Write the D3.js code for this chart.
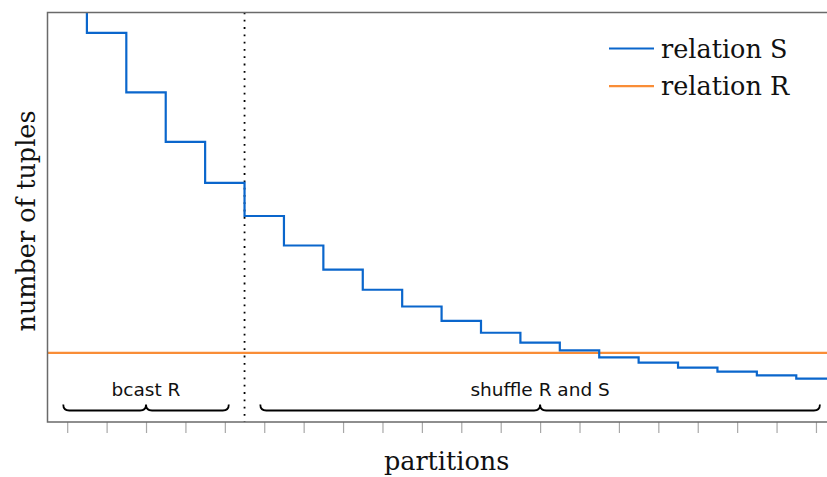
<!DOCTYPE html>
<html>
  <head>
    <title>Partition sizes</title>
    <style type="text/css">
        body{
            margin: 0;
            background: #fff;
        }
        .frame{
            stroke: #6a6a6a;
            stroke-width: 1.5px;
            fill: none;
        }
        .serif{
            font-family: "DejaVu Serif", serif;
            font-size: 25.5px;
            fill: #111;
        }
        .sans{
            font-family: "DejaVu Sans", sans-serif;
            font-size: 18.5px;
            fill: #111;
        }
    </style>
  </head>
  <body>
    <div id="chart"></div>

    <script src="https://cdn.jsdelivr.net/npm/d3@7"></script>
    <script>
        //  Values (y axis has no labels, so 0..100 units)
        var partitions = [0, 1, 2, 3, 4, 5, 6, 7, 8, 9, 10, 11, 12, 13, 14, 15, 16, 17, 18, 19];
        var relationS = [115, 95.0, 80.5, 68.4, 58.4, 50.3, 43.1, 37.2, 32.3, 28.2,
                         24.7, 21.8, 19.4, 17.5, 15.8, 14.5, 13.3, 12.3, 11.4, 10.6];
        var relationR = 16.9;
        var splitAt = 4.5;
        var groups = [
            {label: "bcast R", from: -0.1, to: 4.1},
            {label: "shuffle R and S", from: 4.9, to: 19.1}
        ];
        var legendItems = [
            {label: "relation S", color: "#0a66cc"},
            {label: "relation R", color: "#f98d37"}
        ];

        var width = 827, height = 477;
        //  plot area box ("top" is taken by window.top, so prefix them)
        var plotLeft = 47.5, plotRight = 827, plotTop = 12.5, plotBottom = 422;

        var svg = d3.select("#chart").append("svg")
            .attr("width", width)
            .attr("height", height);

        var x = d3.scaleLinear().domain([-0.5, 19.28]).range([plotLeft, plotRight]);
        var y = d3.scaleLinear().domain([0, 100]).range([plotBottom, plotTop]);

        svg.append("clipPath").attr("id", "plot-clip")
            .append("rect")
            .attr("x", plotLeft).attr("y", plotTop)
            .attr("width", plotRight - plotLeft).attr("height", plotBottom - plotTop);

        //  x axis ticks hanging below the frame
        var xAxis = d3.axisBottom(x).tickValues(partitions).tickSize(11).tickFormat("");
        var gx = svg.append("g")
            .attr("transform", "translate(0," + plotBottom + ")")
            .call(xAxis);
        gx.select(".domain").remove();
        gx.selectAll(".tick line").attr("stroke", "#a8a8a8").attr("stroke-width", 1.2);

        var plot = svg.append("g").attr("clip-path", "url(#plot-clip)");

        //  split between broadcast and shuffle partitions
        plot.append("line")
            .attr("x1", x(splitAt)).attr("x2", x(splitAt))
            .attr("y1", plotTop).attr("y2", plotBottom)
            .attr("stroke", "#000")
            .attr("stroke-width", 1.8)
            .attr("stroke-dasharray", "1.8,5.5");

        plot.append("line")
            .attr("x1", plotLeft).attr("x2", plotRight)
            .attr("y1", y(relationR)).attr("y2", y(relationR))
            .attr("stroke", legendItems[1].color)
            .attr("stroke-width", 2.2);

        var stepData = partitions.map((p, i) => [p, relationS[i]]);
        stepData.push([x.domain()[1], relationS[relationS.length - 1]]);

        var line = d3.line()
            .x((d) => x(d[0]))
            .y((d) => y(d[1]))
            .curve(d3.curveStep);

        plot.append("path")
            .datum(stepData)
            .attr("d", line)
            .attr("fill", "none")
            .attr("stroke", legendItems[0].color)
            .attr("stroke-width", 2.2);

        //  frame: left, top, bottom (right edge is outside the picture)
        svg.append("path")
            .attr("class", "frame")
            .attr("d", "M" + plotRight + "," + plotTop + "H" + plotLeft + "V" + plotBottom + "H" + plotRight);

        //  curly braces under the groups
        function brace(x1, x2, y0, h) {
            var mid = (x1 + x2) / 2;
            return "M" + x1 + "," + (y0 - h) +
                   "Q" + x1 + "," + y0 + " " + (x1 + h) + "," + y0 +
                   "L" + (mid - h) + "," + y0 +
                   "Q" + mid + "," + y0 + " " + mid + "," + (y0 - h) +
                   "Q" + mid + "," + y0 + " " + (mid + h) + "," + y0 +
                   "L" + (x2 - h) + "," + y0 +
                   "Q" + x2 + "," + y0 + " " + x2 + "," + (y0 - h);
        }

        var g = svg.selectAll(".group")
            .data(groups)
            .enter().append("g")
            .attr("class", "group");

        g.append("path")
            .attr("d", (d) => brace(x(d.from), x(d.to), 410.5, 6))
            .attr("fill", "none")
            .attr("stroke", "#000")
            .attr("stroke-width", 1.8);

        g.append("text")
            .attr("class", "sans")
            .attr("x", (d) => x((d.from + d.to) / 2))
            .attr("y", 396)
            .attr("text-anchor", "middle")
            .text((d) => d.label);

        //  legend
        var legend = svg.selectAll(".legend")
            .data(legendItems)
            .enter().append("g")
            .attr("class", "legend")
            .attr("transform", (d, i) => "translate(0," + (48.5 + i * 37.7) + ")");

        legend.append("line")
            .attr("x1", 609).attr("x2", 654)
            .attr("stroke", (d) => d.color)
            .attr("stroke-width", 2.2);

        legend.append("text")
            .attr("class", "serif")
            .attr("x", 661)
            .attr("y", 9)
            .text((d) => d.label);

        //  axis titles
        svg.append("text")
            .attr("class", "serif")
            .attr("x", x(9.5) + 5)
            .attr("y", 470)
            .attr("text-anchor", "middle")
            .text("partitions");

        svg.append("text")
            .attr("class", "serif")
            .attr("transform", "translate(35,221) rotate(-90)")
            .attr("text-anchor", "middle")
            .text("number of tuples");
    </script>
  </body>
</html>
